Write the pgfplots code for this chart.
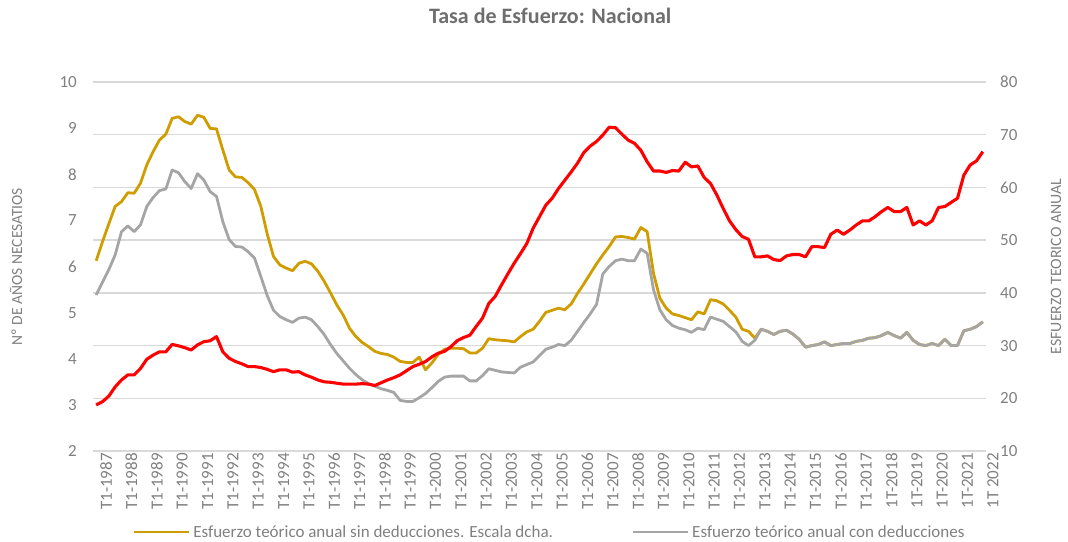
\documentclass[border=0pt]{standalone}
\usepackage{fontspec}
\setmainfont{Carlito}
\usepackage{pgfplots}
\usepackage{pgfplotstable}
\pgfplotsset{compat=1.18}
\definecolor{cred}{RGB}{255,0,0}
\definecolor{cgold}{RGB}{207,157,0}
\definecolor{cgrey}{RGB}{165,165,165}
\definecolor{cgrid}{RGB}{217,217,217}
\definecolor{ctext}{RGB}{128,128,128}
\definecolor{ctitle}{RGB}{110,110,110}

\pgfplotstableread{
i red gold grey
0 3.00 46.1 39.6
1 3.07 49.7 42.0
2 3.19 53.1 44.4
3 3.39 56.4 47.2
4 3.54 57.3 51.6
5 3.65 59.0 52.7
6 3.65 58.9 51.6
7 3.79 60.8 52.9
8 3.99 64.3 56.4
9 4.08 66.8 58.1
10 4.15 69.0 59.4
11 4.15 70.1 59.7
12 4.31 73.1 63.3
13 4.28 73.4 62.8
14 4.24 72.5 61.1
15 4.19 72.0 59.8
16 4.30 73.7 62.6
17 4.37 73.3 61.4
18 4.39 71.2 59.2
19 4.48 71.1 58.3
20 4.15 67.1 53.5
21 4.01 63.3 50.1
22 3.94 62.0 48.8
23 3.89 61.9 48.7
24 3.83 60.9 47.8
25 3.83 59.6 46.6
26 3.81 56.4 43.1
27 3.77 51.2 39.5
28 3.72 46.9 36.7
29 3.76 45.3 35.5
30 3.76 44.7 34.9
31 3.71 44.2 34.4
32 3.72 45.6 35.2
33 3.65 46.0 35.4
34 3.60 45.5 34.9
35 3.54 44.1 33.6
36 3.50 42.2 32.1
37 3.49 40.0 30.2
38 3.47 37.7 28.5
39 3.45 35.8 27.1
40 3.45 33.3 25.7
41 3.45 31.7 24.5
42 3.46 30.6 23.5
43 3.45 29.8 22.8
44 3.42 28.9 22.3
45 3.48 28.5 21.8
46 3.54 28.3 21.5
47 3.59 27.8 21.1
48 3.65 27.0 19.6
49 3.74 26.8 19.4
50 3.83 26.8 19.4
51 3.88 27.8 20.1
52 3.94 25.4 20.9
53 4.04 26.7 22.0
54 4.12 28.3 23.2
55 4.16 29.3 24.0
56 4.26 29.5 24.2
57 4.39 29.5 24.2
58 4.46 29.4 24.2
59 4.51 28.6 23.3
60 4.70 28.6 23.3
61 4.88 29.5 24.3
62 5.20 31.3 25.6
63 5.35 31.1 25.3
64 5.60 31.0 25.0
65 5.84 30.9 24.9
66 6.07 30.7 24.8
67 6.28 31.7 25.9
68 6.50 32.6 26.4
69 6.83 33.1 26.9
70 7.08 34.6 28.1
71 7.33 36.3 29.3
72 7.48 36.7 29.7
73 7.69 37.1 30.2
74 7.87 36.8 30.0
75 8.05 37.9 31.0
76 8.24 39.9 32.7
77 8.47 41.7 34.4
78 8.61 43.6 36.0
79 8.71 45.5 37.8
80 8.85 47.2 43.6
81 9.02 48.8 45.0
82 9.01 50.6 46.1
83 8.87 50.7 46.4
84 8.74 50.5 46.1
85 8.67 50.2 46.1
86 8.52 52.4 48.3
87 8.27 51.6 47.5
88 8.07 43.7 40.6
89 8.07 39.0 36.8
90 8.04 37.1 34.9
91 8.08 36.0 33.8
92 8.07 35.7 33.3
93 8.26 35.3 33.0
94 8.16 34.9 32.5
95 8.18 36.4 33.3
96 7.93 36.0 33.0
97 7.80 38.7 35.4
98 7.55 38.5 35.0
99 7.26 37.9 34.6
100 6.99 36.7 33.6
101 6.80 35.4 32.6
102 6.65 33.1 30.8
103 6.59 32.7 30.0
104 6.21 31.4 31.0
105 6.21 33.1 33.1
106 6.23 32.7 32.7
107 6.15 32.1 32.1
108 6.13 32.7 32.7
109 6.23 32.9 32.9
110 6.26 32.2 32.2
111 6.26 31.2 31.2
112 6.21 29.7 29.7
113 6.43 30.0 30.0
114 6.43 30.2 30.2
115 6.41 30.7 30.7
116 6.70 30.0 30.0
117 6.79 30.2 30.2
118 6.70 30.4 30.4
119 6.79 30.4 30.4
120 6.90 30.8 30.8
121 6.99 31.0 31.0
122 6.99 31.4 31.4
123 7.08 31.5 31.5
124 7.19 31.9 31.9
125 7.28 32.5 32.5
126 7.19 31.9 31.9
127 7.19 31.4 31.4
128 7.28 32.5 32.5
129 6.90 31.0 31.0
130 6.99 30.2 30.2
131 6.90 30.0 30.0
132 6.99 30.4 30.4
133 7.28 30.0 30.0
134 7.30 31.2 31.2
135 7.39 30.0 30.0
136 7.48 30.0 30.0
137 7.98 32.8 32.8
138 8.20 33.1 33.1
139 8.29 33.6 33.6
140 8.49 34.5 34.5
}\datatable

\begin{document}
\begin{tikzpicture}
\useasboundingbox (-93bp,-91bp) rectangle (975bp,451bp);
\pgfplotsset{
  common/.style={
    scale only axis, width=893bp, height=369bp,
    at={(0,0)}, anchor=south west,
    xmin=-0.5, xmax=140.5,
    axis line style={draw=none},
    tick style={draw=none},
    major tick length=0pt,
    /pgf/number format/assume math mode=true,
    ticklabel style={font=\fontsize{17bp}{20bp}\selectfont, text=ctext, inner sep=2bp},
    legend style={draw=none, fill=none, inner sep=0pt, outer sep=0pt,
      font=\fontsize{17bp}{20bp}\selectfont, text=ctext,
      nodes={inner sep=2.5bp}},
    legend image code/.code={\draw[#1] (0bp,0bp) -- (55bp,0bp);},
  }
}
% right axis with grid, gold and grey
\begin{axis}[common,
  ymin=10, ymax=80, ytick={10,20,...,80},
  yticklabel pos=right,
  yticklabel style={anchor=west, xshift=12bp},
  ymajorgrids, grid style={cgrid, line width=1.4bp},
  xtick={0,4,...,140},
  xticklabels={T1-1987,T1-1988,T1-1989,T1-1990,T1-1991,T1-1992,T1-1993,T1-1994,T1-1995,T1-1996,T1-1997,T1-1998,T1-1999,T1-2000,T1-2001,T1-2002,T1-2003,T1-2004,T1-2005,T1-2006,T1-2007,T1-2008,T1-2009,T1-2010,T1-2011,T1-2012,T1-2013,T1-2014,T1-2015,T1-2016,T1-2017,1T-2018,1T-2019,1T-2020,1T-2021,1T 2022},
  xticklabel style={rotate=90, anchor=east, yshift=-10bp},
  title={Tasa de Esfuerzo: Nacional},
  title style={at={(axis description cs:0.512,1.162)}, anchor=center,
    font=\bfseries\fontsize{22bp}{26bp}\selectfont, text=ctitle},
  ylabel={ESFUERZO TEORICO ANUAL},
  ylabel style={at={(axis description cs:1.0784,0.5)}, anchor=center,
    font=\fontsize{15.8bp}{19bp}\selectfont, text=ctext},
  legend style={at={(axis description cs:0.0448,-0.2195)}, anchor=west},
]
\addplot[cgold, line width=2.8bp, line join=round] table[x=i, y=gold] {\datatable};
\addlegendentry{Esfuerzo teórico anual sin deducciones. Escala dcha.}
\addplot[cgrey, line width=2.8bp, line join=round, forget plot] table[x=i, y=grey] {\datatable};
\end{axis}
% left axis, red
\begin{axis}[common,
  ymin=2, ymax=10, ytick={2,3,...,10},
  yticklabel style={anchor=east, xshift=-14bp},
  xtick=\empty,
  ylabel={Nº DE AÑOS NECESATIOS},
  ylabel style={at={(axis description cs:-0.0862,0.5)}, anchor=center,
    font=\fontsize{15.5bp}{19bp}\selectfont, text=ctext},
  legend style={at={(axis description cs:0.6035,-0.2195)}, anchor=west},
]
\addplot[cred, line width=3.1bp, line join=round, forget plot] table[x=i, y=red] {\datatable};
\addlegendimage{cgrey, line width=2.8bp}
\addlegendentry{Esfuerzo teórico anual con deducciones}
\end{axis}
\end{tikzpicture}
\end{document}
